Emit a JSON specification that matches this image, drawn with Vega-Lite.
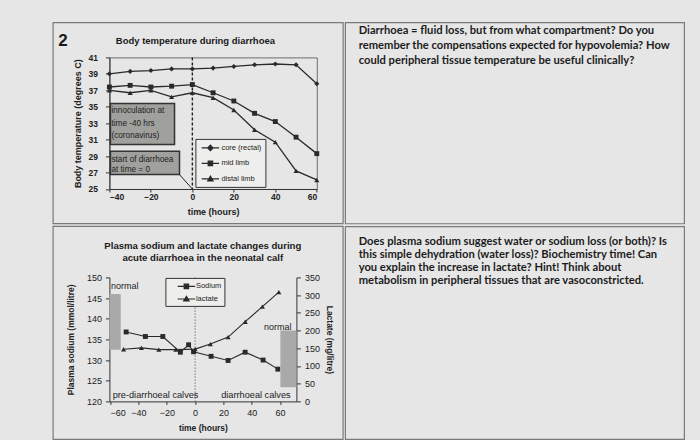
{
  "$schema": "https://vega.github.io/schema/vega-lite/v6.json",
  "background": "#e6e6e6",
  "padding": {"left": 51.4, "top": 21.4, "right": 17, "bottom": 2},
  "datasets": {
    "temps": [
      {"series": "core (rectal)", "time": -40, "temp": 39.0},
      {"series": "core (rectal)", "time": -30, "temp": 39.3},
      {"series": "core (rectal)", "time": -20, "temp": 39.4},
      {"series": "core (rectal)", "time": -10, "temp": 39.6},
      {"series": "core (rectal)", "time": 0, "temp": 39.6},
      {"series": "core (rectal)", "time": 10, "temp": 39.7},
      {"series": "core (rectal)", "time": 20, "temp": 39.9},
      {"series": "core (rectal)", "time": 30, "temp": 40.1},
      {"series": "core (rectal)", "time": 40, "temp": 40.2},
      {"series": "core (rectal)", "time": 50, "temp": 40.1},
      {"series": "core (rectal)", "time": 60, "temp": 37.8},
      {"series": "mid limb", "time": -40, "temp": 37.4},
      {"series": "mid limb", "time": -30, "temp": 37.6},
      {"series": "mid limb", "time": -20, "temp": 37.4},
      {"series": "mid limb", "time": -10, "temp": 37.5},
      {"series": "mid limb", "time": 0, "temp": 37.7},
      {"series": "mid limb", "time": 10, "temp": 36.7},
      {"series": "mid limb", "time": 20, "temp": 35.7},
      {"series": "mid limb", "time": 30, "temp": 34.2},
      {"series": "mid limb", "time": 40, "temp": 33.2},
      {"series": "mid limb", "time": 50, "temp": 31.3},
      {"series": "mid limb", "time": 60, "temp": 29.3},
      {"series": "distal limb", "time": -40, "temp": 37.0},
      {"series": "distal limb", "time": -30, "temp": 36.7},
      {"series": "distal limb", "time": -20, "temp": 37.0},
      {"series": "distal limb", "time": -10, "temp": 36.2},
      {"series": "distal limb", "time": 0, "temp": 36.7},
      {"series": "distal limb", "time": 10, "temp": 36.1},
      {"series": "distal limb", "time": 20, "temp": 34.6},
      {"series": "distal limb", "time": 30, "temp": 32.2},
      {"series": "distal limb", "time": 40, "temp": 30.7},
      {"series": "distal limb", "time": 50, "temp": 27.2},
      {"series": "distal limb", "time": 60, "temp": 26.1}
    ],
    "blood": [
      {"measure": "Sodium", "time": -48.7, "value": 136.8},
      {"measure": "Sodium", "time": -35.1, "value": 135.7},
      {"measure": "Sodium", "time": -22.8, "value": 135.7},
      {"measure": "Sodium", "time": -10.4, "value": 131.9},
      {"measure": "Sodium", "time": -4.6, "value": 133.7},
      {"measure": "Sodium", "time": -1.1, "value": 132.0},
      {"measure": "Sodium", "time": 11.3, "value": 130.9},
      {"measure": "Sodium", "time": 23.3, "value": 129.9},
      {"measure": "Sodium", "time": 35.3, "value": 131.9},
      {"measure": "Sodium", "time": 48.0, "value": 130.0},
      {"measure": "Sodium", "time": 58.4, "value": 127.8},
      {"measure": "lactate", "time": -50.5, "value": 147},
      {"measure": "lactate", "time": -37.9, "value": 151},
      {"measure": "lactate", "time": -25.6, "value": 146},
      {"measure": "lactate", "time": -13.6, "value": 146},
      {"measure": "lactate", "time": 0, "value": 147.6},
      {"measure": "lactate", "time": 10.8, "value": 161.7},
      {"measure": "lactate", "time": 23.3, "value": 181.5},
      {"measure": "lactate", "time": 35.4, "value": 225},
      {"measure": "lactate", "time": 47.5, "value": 267.6},
      {"measure": "lactate", "time": 59.1, "value": 308.5}
    ],
    "q1": [
      {"line": 1, "text": "Diarrhoea = fluid loss, but from what compartment? Do you"},
      {"line": 2, "text": "remember the compensations expected for hypovolemia? How"},
      {"line": 3, "text": "could peripheral tissue temperature be useful clinically?"}
    ],
    "q2": [
      {"line": 1, "text": "Does plasma sodium suggest water or sodium loss (or both)? Is"},
      {"line": 2, "text": "this simple dehydration (water loss)? Biochemistry time! Can"},
      {"line": 3, "text": "you explain the increase in lactate? Hint! Think about"},
      {"line": 4, "text": "metabolism in peripheral tissues that are vasoconstricted."}
    ]
  },
  "config": {
    "view": {"stroke": null},
    "font": "Liberation Sans",
    "axis": {
      "labelFont": "Liberation Sans",
      "titleFont": "Liberation Sans",
      "domainColor": "#333333",
      "tickColor": "#333333",
      "labelColor": "#222222",
      "titleColor": "#222222",
      "titleFontWeight": "bold",
      "labelOverlap": false,
      "grid": false
    },
    "legend": {"labelFont": "Liberation Sans"}
  },
  "columns": 2,
  "spacing": 0,
  "align": "each",
  "bounds": "full",
  "resolve": {
    "scale": {"color": "independent", "shape": "independent"},
    "legend": {"color": "independent", "shape": "independent"}
  },
  "concat": [
    {
      "width": 207.4,
      "height": 131.6,
      "view": {"stroke": "#6b6b6b"},
      "layer": [
        {
          "data": {"values": [{}]},
          "mark": {"type": "rect", "fill": "transparent", "stroke": "#7a7a7a", "strokeWidth": 1.2},
          "encoding": {
            "x": {"datum": -67.15, "type": "quantitative", "scale": {"domain": [-40, 60], "nice": false, "zero": false}},
            "x2": {"datum": 72.7},
            "y": {"datum": 45.22, "type": "quantitative", "scale": {"domain": [25, 41], "nice": false, "zero": false}},
            "y2": {"datum": 20.78}
          }
        },
        {
          "data": {"values": [{}]},
          "mark": {"type": "text", "align": "left", "baseline": "middle", "fontSize": 17, "fontWeight": "bold", "color": "#1a1a1a"},
          "encoding": {
            "x": {"datum": -64.7, "type": "quantitative", "scale": {"domain": [-40, 60], "nice": false, "zero": false}},
            "y": {"datum": 43.03, "type": "quantitative", "scale": {"domain": [25, 41], "nice": false, "zero": false}},
            "text": {"value": "2"}
          }
        },
        {
          "data": {"values": [{}]},
          "mark": {"type": "text", "align": "center", "baseline": "middle", "fontSize": 9.5, "fontWeight": "bold", "color": "#1a1a1a"},
          "encoding": {
            "x": {"datum": 1.47, "type": "quantitative", "scale": {"domain": [-40, 60], "nice": false, "zero": false}},
            "y": {"datum": 43.03, "type": "quantitative", "scale": {"domain": [25, 41], "nice": false, "zero": false}},
            "text": {"value": "Body temperature during diarrhoea"}
          }
        },
        {
          "data": {"values": [{}]},
          "mark": {"type": "rule", "stroke": "#222222", "strokeDash": [3, 2], "strokeWidth": 1.4},
          "encoding": {
            "x": {"datum": 0, "type": "quantitative", "scale": {"domain": [-40, 60], "nice": false, "zero": false}},
            "y": {"datum": 41, "type": "quantitative", "scale": {"domain": [25, 41], "nice": false, "zero": false}},
            "y2": {"datum": 25}
          }
        },
        {
          "data": {"values": [{}]},
          "mark": {"type": "rect", "fill": "#a0a09c", "stroke": "#333333", "strokeWidth": 1.5},
          "encoding": {
            "x": {"datum": -39.5, "type": "quantitative", "scale": {"domain": [-40, 60], "nice": false, "zero": false}},
            "x2": {"datum": -8.6},
            "y": {"datum": 35.4, "type": "quantitative", "scale": {"domain": [25, 41], "nice": false, "zero": false}},
            "y2": {"datum": 30.4}
          }
        },
        {
          "data": {"values": [{}]},
          "mark": {"type": "rect", "fill": "#a0a09c", "stroke": "#333333", "strokeWidth": 1.5},
          "encoding": {
            "x": {"datum": -39.5, "type": "quantitative", "scale": {"domain": [-40, 60], "nice": false, "zero": false}},
            "x2": {"datum": -6.2},
            "y": {"datum": 29.6, "type": "quantitative", "scale": {"domain": [25, 41], "nice": false, "zero": false}},
            "y2": {"datum": 26.75}
          }
        },
        {
          "data": {"values": [{}]},
          "mark": {"type": "rule", "stroke": "#222222", "strokeWidth": 1},
          "encoding": {
            "x": {"datum": -6.2, "type": "quantitative", "scale": {"domain": [-40, 60], "nice": false, "zero": false}},
            "x2": {"datum": 0},
            "y": {"datum": 26.75, "type": "quantitative", "scale": {"domain": [25, 41], "nice": false, "zero": false}},
            "y2": {"datum": 25}
          }
        },
        {
          "data": {"values": [{}]},
          "mark": {"type": "text", "align": "left", "baseline": "top", "fontSize": 8.2, "lineHeight": 12.5, "color": "#1e1e1e"},
          "encoding": {
            "x": {"datum": -39.0, "type": "quantitative", "scale": {"domain": [-40, 60], "nice": false, "zero": false}},
            "y": {"datum": 34.92, "type": "quantitative", "scale": {"domain": [25, 41], "nice": false, "zero": false}},
            "text": {"value": ["innoculation at", "time -40 hrs", "(coronavirus)"]}
          }
        },
        {
          "data": {"values": [{}]},
          "mark": {"type": "text", "align": "left", "baseline": "top", "fontSize": 8.2, "lineHeight": 10, "color": "#1e1e1e"},
          "encoding": {
            "x": {"datum": -39.0, "type": "quantitative", "scale": {"domain": [-40, 60], "nice": false, "zero": false}},
            "y": {"datum": 29.01, "type": "quantitative", "scale": {"domain": [25, 41], "nice": false, "zero": false}},
            "text": {"value": ["start of diarrhoea", " at time = 0"]}
          }
        },
        {
          "data": {"name": "temps"},
          "mark": {"type": "line", "strokeWidth": 1.3},
          "encoding": {
            "x": {
              "field": "time", "type": "quantitative",
              "scale": {"domain": [-40, 60], "nice": false, "zero": false},
              "axis": {"values": [-40, -20, 0, 20, 40, 60], "tickCount": 30, "format": "d", "labelOverlap": false, "title": "time (hours)", "titleFontSize": 9, "labelFontSize": 8.5, "labelFontWeight": "bold", "tickSize": 3, "labelPadding": 1, "titlePadding": 6}
            },
            "y": {
              "field": "temp", "type": "quantitative",
              "scale": {"domain": [25, 41], "nice": false, "zero": false},
              "axis": {"values": [25, 27, 29, 31, 33, 35, 37, 39, 41], "tickCount": 30, "format": "d", "labelOverlap": false, "title": "Body temperature (degrees C)", "titleFontSize": 9, "labelFontSize": 8.5, "labelFontWeight": "bold", "tickSize": 4, "labelPadding": 8, "titlePadding": 5}
            },
            "color": {
              "field": "series", "type": "nominal",
              "scale": {"domain": ["core (rectal)", "mid limb", "distal limb"], "range": ["#2a2a2a", "#2a2a2a", "#2a2a2a"]},
              "legend": {
                "orient": "none", "legendX": 86, "legendY": 81.5, "title": null,
                "padding": 3, "fillColor": "#eeeeec", "strokeColor": "#333333",
                "labelFontSize": 7.5, "labelColor": "#222222",
                "symbolSize": 100, "symbolStrokeWidth": 1.1,
                "symbolFillColor": "#2a2a2a", "symbolStrokeColor": "#2a2a2a",
                "symbolOffset": 6, "labelOffset": 5, "rowPadding": 4.5,
                "encode": {"symbols": {"update": {
                  "shape": {"signal": "datum.value === 'core (rectal)' ? 'M-1.75,0H1.75M0,-0.55L0.55,0L0,0.55L-0.55,0Z' : datum.value === 'mid limb' ? 'M-1.75,0H1.75M-0.45,-0.45H0.45V0.45H-0.45Z' : 'M-1.75,0H1.75M0,-0.55L0.55,0.4H-0.55Z'"},
                  "fill": {"value": "#2a2a2a"},
                  "stroke": {"value": "#2a2a2a"}
                }}}
              }
            }
          }
        },
        {
          "data": {"name": "temps"},
          "transform": [{"filter": "datum.series === 'core (rectal)'"}],
          "mark": {"type": "point", "shape": "diamond", "filled": true, "size": 26, "opacity": 1, "color": "#2a2a2a"},
          "encoding": {
            "x": {"field": "time", "type": "quantitative", "scale": {"domain": [-40, 60], "nice": false, "zero": false}},
            "y": {"field": "temp", "type": "quantitative", "scale": {"domain": [25, 41], "nice": false, "zero": false}}
          }
        },
        {
          "data": {"name": "temps"},
          "transform": [{"filter": "datum.series === 'mid limb'"}],
          "mark": {"type": "point", "shape": "square", "filled": true, "size": 24, "opacity": 1, "color": "#2a2a2a"},
          "encoding": {
            "x": {"field": "time", "type": "quantitative", "scale": {"domain": [-40, 60], "nice": false, "zero": false}},
            "y": {"field": "temp", "type": "quantitative", "scale": {"domain": [25, 41], "nice": false, "zero": false}}
          }
        },
        {
          "data": {"name": "temps"},
          "transform": [{"filter": "datum.series === 'distal limb'"}],
          "mark": {"type": "point", "shape": "triangle-up", "filled": true, "size": 26, "opacity": 1, "color": "#2a2a2a"},
          "encoding": {
            "x": {"field": "time", "type": "quantitative", "scale": {"domain": [-40, 60], "nice": false, "zero": false}},
            "y": {"field": "temp", "type": "quantitative", "scale": {"domain": [25, 41], "nice": false, "zero": false}}
          }
        }
      ]
    },
    {
      "width": 339,
      "height": 131.6,
      "layer": [
        {
          "data": {"values": [{}]},
          "mark": {"type": "rect", "fill": "transparent", "stroke": "#7a7a7a", "strokeWidth": 1.2},
          "encoding": {
            "x": {"datum": -0.0408, "type": "quantitative", "scale": {"domain": [-0.0408, 1], "nice": false, "zero": false}, "axis": null},
            "x2": {"datum": 1},
            "y": {"datum": 0.467, "type": "quantitative", "scale": {"domain": [2.78, 11.553], "reverse": true, "nice": false, "zero": false}, "axis": null},
            "y2": {"datum": 13.87}
          }
        },
        {
          "data": {"name": "q1"},
          "mark": {"type": "text", "align": "left", "baseline": "middle", "font": "Lato", "fontWeight": "bold", "fontSize": 11.2, "color": "#1c1c1c"},
          "encoding": {
            "x": {"datum": 0, "type": "quantitative", "scale": {"domain": [-0.0408, 1], "nice": false, "zero": false}, "axis": null},
            "y": {"field": "line", "type": "quantitative", "scale": {"domain": [2.78, 11.553], "reverse": true, "nice": false, "zero": false}, "axis": null},
            "text": {"field": "text"}
          }
        }
      ]
    },
    {
      "width": 187,
      "height": 124,
      "resolve": {"scale": {"y": "independent"}},
      "layer": [
        {
          "layer": [
            {
              "data": {"values": [{}]},
              "mark": {"type": "rect", "fill": "transparent", "stroke": "#7a7a7a", "strokeWidth": 1.2},
              "encoding": {
                "x": {"datum": -100.24, "type": "quantitative", "scale": {"domain": [-60.5, 71.5], "nice": false, "zero": false}},
                "x2": {"datum": 104.46},
                "y": {"datum": 162.34, "type": "quantitative", "scale": {"domain": [120, 150], "nice": false, "zero": false}},
                "y2": {"datum": 110.8}
              }
            },
            {
              "data": {"values": [{}]},
              "mark": {"type": "text", "align": "center", "baseline": "top", "fontSize": 9.6, "fontWeight": "bold", "lineHeight": 12, "color": "#1a1a1a"},
              "encoding": {
                "x": {"datum": 5.43, "type": "quantitative", "scale": {"domain": [-60.5, 71.5], "nice": false, "zero": false}},
                "y": {"datum": 158.83, "type": "quantitative", "scale": {"domain": [120, 150], "nice": false, "zero": false}},
                "text": {"value": ["Plasma sodium and lactate changes during", "acute diarrhoea in the neonatal calf"]}
              }
            },
            {
              "data": {"values": [{}]},
              "mark": {"type": "rect", "fill": "#a9a9a9"},
              "encoding": {
                "x": {"datum": -60.5, "type": "quantitative", "scale": {"domain": [-60.5, 71.5], "nice": false, "zero": false}},
                "x2": {"datum": -52.5},
                "y": {"datum": 145.96, "type": "quantitative", "scale": {"domain": [120, 150], "nice": false, "zero": false}},
                "y2": {"datum": 132.5}
              }
            },
            {
              "data": {"values": [{}]},
              "mark": {"type": "rule", "stroke": "#777777", "strokeDash": [1.5, 1.5], "strokeWidth": 1},
              "encoding": {
                "x": {"datum": 0, "type": "quantitative", "scale": {"domain": [-60.5, 71.5], "nice": false, "zero": false}},
                "y": {"datum": 150, "type": "quantitative", "scale": {"domain": [120, 150], "nice": false, "zero": false}},
                "y2": {"datum": 120}
              }
            },
            {
              "data": {"values": [{}]},
              "mark": {"type": "text", "align": "left", "baseline": "middle", "fontSize": 9, "color": "#222222"},
              "encoding": {
                "x": {"datum": -59.3, "type": "quantitative", "scale": {"domain": [-60.5, 71.5], "nice": false, "zero": false}},
                "y": {"datum": 148.0, "type": "quantitative", "scale": {"domain": [120, 150], "nice": false, "zero": false}},
                "text": {"value": "normal"}
              }
            },
            {
              "data": {"values": [{}]},
              "mark": {"type": "text", "align": "left", "baseline": "middle", "fontSize": 9.2, "color": "#222222"},
              "encoding": {
                "x": {"datum": -58.2, "type": "quantitative", "scale": {"domain": [-60.5, 71.5], "nice": false, "zero": false}},
                "y": {"datum": 121.45, "type": "quantitative", "scale": {"domain": [120, 150], "nice": false, "zero": false}},
                "text": {"value": "pre-diarrhoeal calves"}
              }
            },
            {
              "data": {"values": [{}]},
              "mark": {"type": "text", "align": "left", "baseline": "middle", "fontSize": 9.2, "color": "#222222"},
              "encoding": {
                "x": {"datum": 18.4, "type": "quantitative", "scale": {"domain": [-60.5, 71.5], "nice": false, "zero": false}},
                "y": {"datum": 121.45, "type": "quantitative", "scale": {"domain": [120, 150], "nice": false, "zero": false}},
                "text": {"value": "diarrhoeal calves"}
              }
            },
            {
              "data": {"name": "blood"},
              "transform": [{"filter": "datum.measure === 'Sodium'"}],
              "mark": {"type": "line", "strokeWidth": 1.1},
              "encoding": {
                "x": {
                  "field": "time", "type": "quantitative",
                  "scale": {"domain": [-60.5, 71.5], "nice": false, "zero": false},
                  "axis": {"values": [-60, -40, -20, 0, 20, 40, 60], "tickCount": 30, "format": "d", "labelOverlap": false, "title": "time (hours)", "titleFontSize": 8.5, "labelFontSize": 9, "tickSize": 3, "labelPadding": 4, "titlePadding": 6}
                },
                "y": {
                  "field": "value", "type": "quantitative",
                  "scale": {"domain": [120, 150], "nice": false, "zero": false},
                  "axis": {"values": [120, 125, 130, 135, 140, 145, 150], "tickCount": 30, "format": "d", "labelOverlap": false, "title": "Plasma sodium (mmol/litre)", "titleFontSize": 8.5, "labelFontSize": 9, "tickSize": 4, "labelPadding": 4, "titlePadding": 11}
                },
                "color": {
                  "field": "measure", "type": "nominal",
                  "scale": {"domain": ["Sodium", "lactate"], "range": ["#2a2a2a", "#2a2a2a"]},
                  "legend": {
                    "orient": "none", "legendX": 56, "legendY": 0.5, "title": null,
                    "padding": 2.5, "fillColor": "#eeeeec", "strokeColor": "#333333",
                    "labelFontSize": 7.5, "labelColor": "#222222",
                    "symbolSize": 100, "symbolStrokeWidth": 1.1,
                    "symbolFillColor": "#2a2a2a", "symbolStrokeColor": "#2a2a2a",
                    "symbolOffset": 12.5, "labelOffset": 3.5, "rowPadding": 1.6,
                    "encode": {"symbols": {"update": {
                      "shape": {"signal": "datum.value === 'Sodium' ? 'M-1.75,0H1.75M-0.45,-0.45H0.45V0.45H-0.45Z' : 'M-1.75,0H1.75M0,-0.55L0.55,0.4H-0.55Z'"},
                      "fill": {"value": "#2a2a2a"},
                      "stroke": {"value": "#2a2a2a"}
                    }}}
                  }
                }
              }
            },
            {
              "data": {"name": "blood"},
              "transform": [{"filter": "datum.measure === 'Sodium'"}],
              "mark": {"type": "point", "shape": "square", "filled": true, "size": 24, "opacity": 1, "color": "#2a2a2a"},
              "encoding": {
                "x": {"field": "time", "type": "quantitative", "scale": {"domain": [-60.5, 71.5], "nice": false, "zero": false}},
                "y": {"field": "value", "type": "quantitative", "scale": {"domain": [120, 150], "nice": false, "zero": false}}
              }
            }
          ]
        },
        {
          "layer": [
            {
              "data": {"values": [{}]},
              "mark": {"type": "rect", "fill": "#a9a9a9"},
              "encoding": {
                "x": {"datum": 60.2, "type": "quantitative", "scale": {"domain": [-60.5, 71.5], "nice": false, "zero": false}},
                "x2": {"datum": 71.5},
                "y": {"datum": 200, "type": "quantitative", "scale": {"domain": [0, 350], "nice": false, "zero": false}},
                "y2": {"datum": 40}
              }
            },
            {
              "data": {"values": [{}]},
              "mark": {"type": "text", "align": "right", "baseline": "middle", "fontSize": 9, "color": "#222222"},
              "encoding": {
                "x": {"datum": 68.1, "type": "quantitative", "scale": {"domain": [-60.5, 71.5], "nice": false, "zero": false}},
                "y": {"datum": 208.9, "type": "quantitative", "scale": {"domain": [0, 350], "nice": false, "zero": false}},
                "text": {"value": "normal"}
              }
            },
            {
              "data": {"name": "blood"},
              "transform": [{"filter": "datum.measure === 'lactate'"}],
              "mark": {"type": "line", "strokeWidth": 1.1},
              "encoding": {
                "x": {"field": "time", "type": "quantitative", "scale": {"domain": [-60.5, 71.5], "nice": false, "zero": false}},
                "y": {
                  "field": "value", "type": "quantitative",
                  "scale": {"domain": [0, 350], "nice": false, "zero": false},
                  "axis": {"orient": "right", "values": [0, 50, 100, 150, 200, 250, 300, 350], "tickCount": 30, "format": "d", "labelOverlap": false, "title": "Lactate (mg/litre)", "titleFontSize": 8.5, "labelFontSize": 9, "tickSize": 4, "labelPadding": 4, "titlePadding": 5}
                },
                "color": {"field": "measure", "type": "nominal", "scale": {"domain": ["Sodium", "lactate"], "range": ["#2a2a2a", "#2a2a2a"]}}
              }
            },
            {
              "data": {"name": "blood"},
              "transform": [{"filter": "datum.measure === 'lactate'"}],
              "mark": {"type": "point", "shape": "triangle-up", "filled": true, "size": 26, "opacity": 1, "color": "#2a2a2a"},
              "encoding": {
                "x": {"field": "time", "type": "quantitative", "scale": {"domain": [-60.5, 71.5], "nice": false, "zero": false}},
                "y": {"field": "value", "type": "quantitative", "scale": {"domain": [0, 350], "nice": false, "zero": false}}
              }
            }
          ]
        }
      ]
    },
    {
      "width": 339,
      "height": 124,
      "layer": [
        {
          "data": {"values": [{}]},
          "mark": {"type": "rect", "fill": "transparent", "stroke": "#7a7a7a", "strokeWidth": 1.2},
          "encoding": {
            "x": {"datum": -0.0408, "type": "quantitative", "scale": {"domain": [-0.0408, 1], "nice": false, "zero": false}, "axis": null},
            "x2": {"datum": 1},
            "y": {"datum": -0.235, "type": "quantitative", "scale": {"domain": [3.734, 13.422], "reverse": true, "nice": false, "zero": false}, "axis": null},
            "y2": {"datum": 16.39}
          }
        },
        {
          "data": {"name": "q2"},
          "mark": {"type": "text", "align": "left", "baseline": "middle", "font": "Lato", "fontWeight": "bold", "fontSize": 11.2, "color": "#1c1c1c"},
          "encoding": {
            "x": {"datum": 0, "type": "quantitative", "scale": {"domain": [-0.0408, 1], "nice": false, "zero": false}, "axis": null},
            "y": {"field": "line", "type": "quantitative", "scale": {"domain": [3.734, 13.422], "reverse": true, "nice": false, "zero": false}, "axis": null},
            "text": {"field": "text"}
          }
        }
      ]
    }
  ]
}
